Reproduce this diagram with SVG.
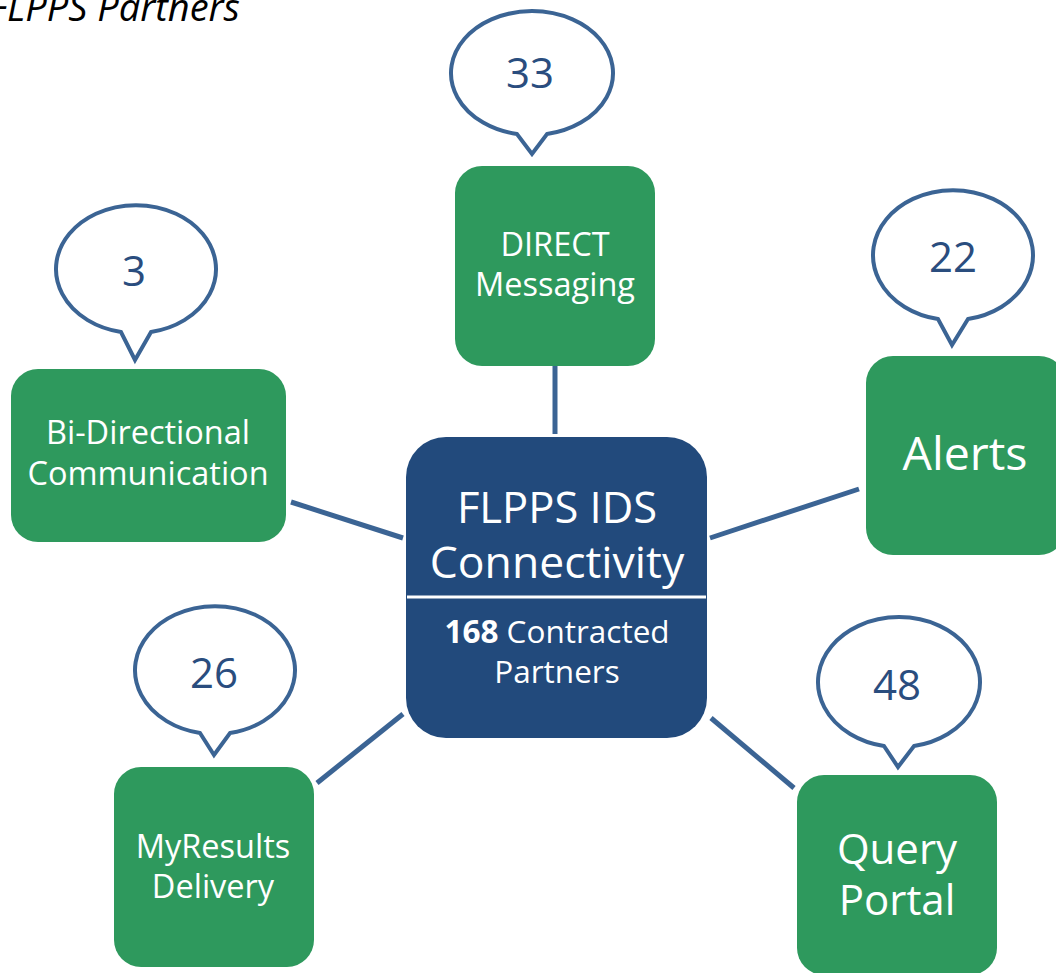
<svg xmlns="http://www.w3.org/2000/svg" width="1056" height="973" viewBox="0 0 1056 973">
<style>
text{font-family:"Open Sans",Lato,"Liberation Sans",sans-serif;text-anchor:middle;font-variant-ligatures:none}
.g{fill:#2e995d}
.gt{fill:#ffffff;font-size:32.5px}
.gl{fill:#ffffff;font-size:42px}
.c{fill:#ffffff;stroke:#3b6494;stroke-width:4;stroke-linejoin:miter}
.ct{fill:#2a4d7e;font-size:42px}
.conn line{stroke:#3b6494;stroke-width:5}
</style>
<rect width="1056" height="973" fill="#ffffff"/>
<text x="240" y="21" style="text-anchor:end;font-style:italic;font-size:38px;fill:#000">FLPPS Partners</text>
<g id="connectors" class="conn">
<line x1="555" y1="366" x2="555" y2="434"/>
<line x1="291" y1="502" x2="403" y2="538"/>
<line x1="710" y1="538" x2="859" y2="489"/>
<line x1="317" y1="783" x2="403" y2="714"/>
<line x1="711" y1="718" x2="794" y2="788"/>
</g>
<g id="center">
<rect x="406" y="437" width="301" height="301" rx="40" fill="#224a7c"/>
<line x1="407" y1="597" x2="706" y2="597" stroke="#ffffff" stroke-width="3"/>
<text x="557" y="523" style="fill:#fff;font-size:43.5px">FLPPS IDS</text>
<text x="557" y="578" style="fill:#fff;font-size:44.5px">Connectivity</text>
<text x="557" y="643" style="fill:#fff;font-size:31.5px"><tspan font-weight="bold">168</tspan> Contracted</text>
<text x="557" y="683" style="fill:#fff;font-size:31.5px">Partners</text>
</g>
<g id="direct">
<rect class="g" x="455" y="166" width="200" height="200" rx="27"/>
<text class="gt" x="555" y="256">DIRECT</text>
<text class="gt" x="555" y="296">Messaging</text>
</g>
<g id="bidirectional">
<rect class="g" x="11" y="369" width="275" height="173" rx="27"/>
<text class="gt" x="148" y="444">Bi-Directional</text>
<text class="gt" x="148" y="485">Communication</text>
</g>
<g id="alerts">
<rect class="g" x="866" y="356" width="200" height="199" rx="27"/>
<text class="gl" x="965" y="470" style="font-size:46.5px">Alerts</text>
</g>
<g id="myresults">
<rect class="g" x="114" y="767" width="200" height="200" rx="27"/>
<text class="gt" x="213" y="858">MyResults</text>
<text class="gt" x="213" y="898">Delivery</text>
</g>
<g id="query">
<rect class="g" x="797" y="775" width="200" height="200" rx="27"/>
<text class="gl" x="897" y="864">Query</text>
<text class="gl" x="897" y="915">Portal</text>
</g>
<g id="callout-33">
<path class="c" d="M547,134 A81,62 0 1 0 517,134 L532,154 Z"/>
<text class="ct" x="530" y="88">33</text>
</g>
<g id="callout-3">
<path class="c" d="M151,332 A80,64 0 1 0 121,332 L135,360 Z"/>
<text class="ct" x="134" y="286">3</text>
</g>
<g id="callout-22">
<path class="c" d="M968,319 A80,65 0 1 0 938,319 L952,345 Z"/>
<text class="ct" x="953" y="272">22</text>
</g>
<g id="callout-26">
<path class="c" d="M230,733 A80,64 0 1 0 200,733 L214,755 Z"/>
<text class="ct" x="214" y="688">26</text>
</g>
<g id="callout-48">
<path class="c" d="M914,746 A81,65 0 1 0 884,746 L898,767 Z"/>
<text class="ct" x="897" y="700">48</text>
</g>
</svg>
